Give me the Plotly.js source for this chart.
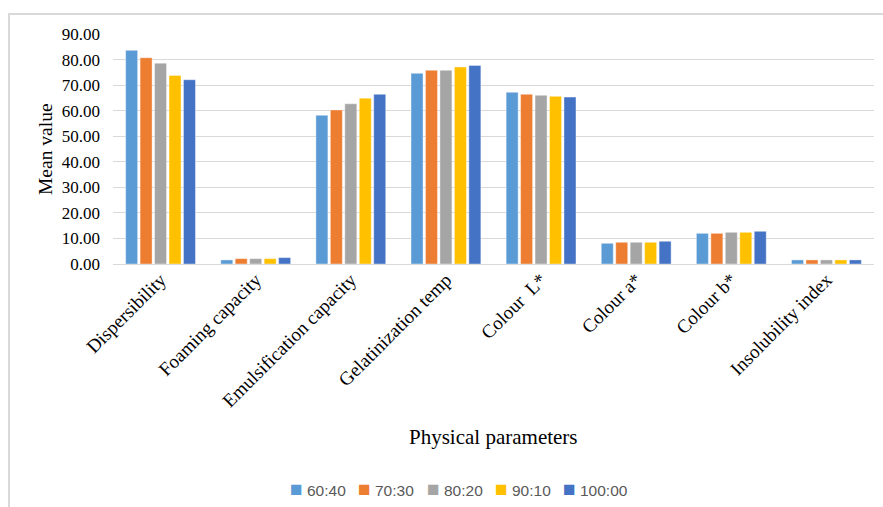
<!DOCTYPE html>
<html>
<head>
<meta charset="utf-8">
<script src="https://cdn.plot.ly/plotly-3.0.1.min.js"></script>
<style>
html,body{margin:0;padding:0;width:883px;height:507px;overflow:hidden;background:#fff;}
#frame{position:absolute;left:8px;top:13px;width:900px;height:520px;border:2px solid #d9d9d9;box-sizing:border-box;}
#chart{position:absolute;left:0;top:0;width:883px;height:507px;}
</style>
</head>
<body>
<div id="frame"></div>
<div id="chart"></div>
<script>
const categories = ["Dispersibility","Foaming capacity","Emulsification capacity","Gelatinization temp","Colour  L*","Colour a*","Colour b*","Insolubility index"];
const seriesNames = ["60:40","70:30","80:20","90:10","100:00"];
const s6040  = [83.6, 1.6, 58.2, 74.6, 67.2, 8.1, 12.0, 1.6];
const s7030  = [80.7, 2.1, 60.3, 75.8, 66.4, 8.5, 12.0, 1.6];
const s8020  = [78.6, 2.1, 62.7, 75.8, 66.0, 8.5, 12.4, 1.6];
const s9010  = [73.8, 2.1, 64.9, 77.1, 65.6, 8.5, 12.4, 1.6];
const s10000 = [72.1, 2.5, 66.4, 77.7, 65.3, 8.9, 12.8, 1.6];
const colors = ["#5B9BD5","#ED7D31","#A5A5A5","#FFC000","#4472C4"];
const allSeries = [s6040, s7030, s8020, s9010, s10000];

const traces = allSeries.map((vals, i) => ({
  type: "bar",
  name: seriesNames[i],
  x: categories,
  y: vals,
  marker: {color: colors[i], line: {color: "rgba(255,255,255,0.5)", width: 0.8}},
  hoverinfo: "y"
}));

const serif = "Liberation Serif, Times New Roman, serif";
const plotL = 113, plotW = 761, plotT = 34, plotH = 230;

// legend built as text annotations (Excel-style compact legend)
const legendAnn = seriesNames.map((nm, i) => ({
  text: '<span style="color:' + colors[i] + ';font-size:21px">■</span> ' + nm,
  xref: "paper", yref: "paper",
  x: (288 + i * 68.3 - plotL) / plotW,
  y: (plotH - (488 - plotT)) / plotH,
  xanchor: "left", yanchor: "middle",
  showarrow: false,
  font: {family: "Liberation Sans, Arial, sans-serif", size: 15.5, color: "#595959"}
}));

const layout = {
  width: 883, height: 507,
  paper_bgcolor: "rgba(0,0,0,0)",
  plot_bgcolor: "rgba(0,0,0,0)",
  margin: {l: plotL, r: 883 - plotL - plotW, t: plotT, b: 507 - plotT - plotH},
  barmode: "group",
  bargap: 0.24,
  bargroupgap: 0.17,
  showlegend: false,
  xaxis: {
    tickangle: -45,
    tickfont: {family: serif, size: 19, color: "#000"},
    showgrid: false,
    showline: false,
    ticks: "",
    automargin: false
  },
  yaxis: {
    range: [0, 90],
    dtick: 10,
    tickformat: ".2f",
    tickfont: {family: serif, size: 17, color: "#000"},
    gridcolor: "#d9d9d9",
    gridwidth: 1,
    zeroline: true,
    zerolinecolor: "#d9d9d9",
    zerolinewidth: 1,
    showline: false,
    ticks: "",
    ticklabelstandoff: 12,
    automargin: false
  },
  annotations: [
    {text: "Physical parameters", xref: "paper", yref: "paper", x: 0.5, y: -0.752,
     showarrow: false, font: {family: serif, size: 21, color: "#000"}, xanchor: "center", yanchor: "middle"},
    {text: "Mean value", xref: "paper", yref: "paper", x: -0.0894, y: 0.5, textangle: -90,
     showarrow: false, font: {family: serif, size: 19.5, color: "#000"}, xanchor: "center", yanchor: "middle"}
  ].concat(legendAnn)
};

Plotly.newPlot("chart", traces, layout, {displayModeBar: false, staticPlot: true});
</script>
</body>
</html>
